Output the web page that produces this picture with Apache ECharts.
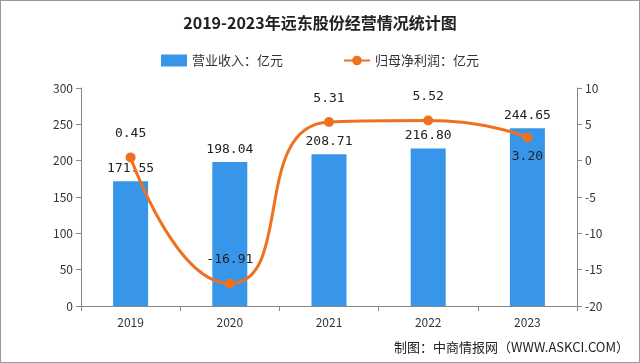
<!DOCTYPE html>
<html>
<head>
<meta charset="utf-8">
<script src="https://cdn.jsdelivr.net/npm/echarts@6/dist/echarts.min.js"></script>
<style>
  html, body { margin: 0; padding: 0; background: #fff; }
  #main { width: 640px; height: 363px; box-sizing: border-box; border: 1px solid #999; }
</style>
</head>
<body>
<div id="main"></div>
<script>
var years = ['2019', '2020', '2021', '2022', '2023'];
var revenue = [171.55, 198.04, 208.71, 216.80, 244.65];
var netProfit = [0.45, -16.91, 5.31, 5.52, 3.20];
var leftTicks = [0, 300, 50];
var rightTicks = [-20, 10, 5];

var myChart = echarts.init(document.getElementById('main'));
var font = '"Noto Sans CJK SC", sans-serif';
var numFont = '"DejaVu Sans Mono", monospace';

// 2023 profit label sits under its point
var profitData = netProfit.map(function (v, i) {
    if (i === netProfit.length - 1) {
        return { value: v, label: { position: 'bottom', distance: 8 } };
    }
    return v;
});

var option = {
    backgroundColor: '#fff',
    animation: false,
    title: {
        text: '2019-2023年远东股份经营情况统计图',
        left: 'center',
        top: 9,
        textStyle: { fontSize: 16, fontWeight: 'bold', color: '#222', fontFamily: font }
    },
    legend: {
        top: 48,
        left: 'center',
        itemGap: 60,
        itemWidth: 26,
        itemHeight: 12,
        textStyle: { fontSize: 13, color: '#333', fontFamily: font },
        data: [
            { name: '营业收入：亿元', icon: 'rect' },
            { name: '归母净利润：亿元' }
        ]
    },
    grid: { left: 80, right: 62, top: 87, bottom: 56 },
    xAxis: {
        type: 'category',
        data: years,
        axisLine: { lineStyle: { color: '#888' } },
        axisTick: { show: true, alignWithLabel: false, lineStyle: { color: '#888' } },
        axisLabel: { color: '#333', fontSize: 12, margin: 10, fontFamily: font }
    },
    yAxis: [
        {
            type: 'value',
            min: leftTicks[0],
            max: leftTicks[1],
            interval: leftTicks[2],
            axisLine: { show: true, lineStyle: { color: '#888' } },
            axisTick: { show: true, lineStyle: { color: '#888' } },
            splitLine: { show: false },
            axisLabel: { color: '#333', fontSize: 12, fontFamily: font }
        },
        {
            type: 'value',
            min: rightTicks[0],
            max: rightTicks[1],
            interval: rightTicks[2],
            axisLine: { show: true, lineStyle: { color: '#888' } },
            axisTick: { show: true, lineStyle: { color: '#888' } },
            splitLine: { show: false },
            axisLabel: { color: '#333', fontSize: 12, fontFamily: font }
        }
    ],
    series: [
        {
            name: '营业收入：亿元',
            type: 'bar',
            data: revenue,
            barWidth: 35,
            itemStyle: { color: '#3796ea' },
            label: {
                show: true,
                position: 'top',
                distance: 6,
                color: '#222',
                fontSize: 13,
                fontFamily: numFont,
                formatter: function (p) { return p.value.toFixed(2); }
            }
        },
        {
            name: '归母净利润：亿元',
            type: 'line',
            yAxisIndex: 1,
            data: profitData,
            smooth: 0.6,
            symbol: 'circle',
            symbolSize: 10,
            lineStyle: { color: '#f07022', width: 3 },
            itemStyle: { color: '#f07022' },
            label: {
                show: true,
                position: 'top',
                distance: 12,
                color: '#222',
                fontSize: 13,
                fontFamily: numFont,
                formatter: function (p) { return p.value.toFixed(2); }
            }
        }
    ],
    graphic: [
        {
            type: 'text',
            right: 10,
            bottom: 8,
            style: {
                text: '制图：中商情报网（WWW.ASKCI.COM）',
                fill: '#222',
                fontSize: 13,
                fontFamily: font
            }
        }
    ]
};
myChart.setOption(option);
</script>
</body>
</html>
